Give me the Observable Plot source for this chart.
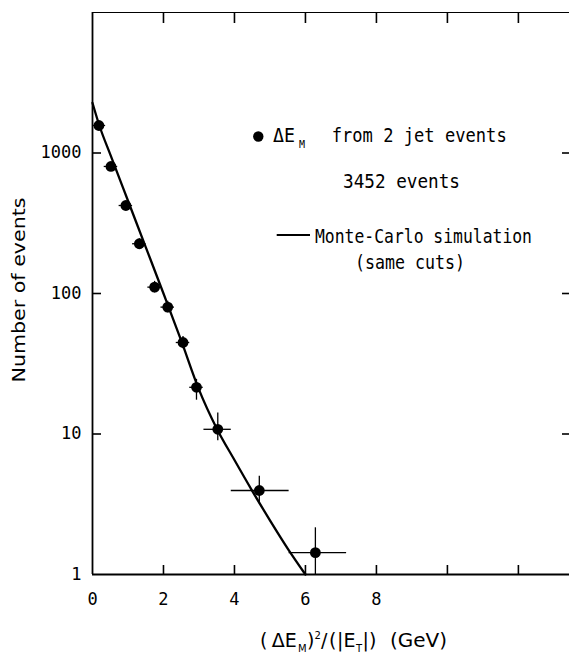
<!DOCTYPE html>
<html><head><meta charset="utf-8">
<script src="https://cdn.jsdelivr.net/npm/d3@7"></script>
<script src="https://cdn.jsdelivr.net/npm/@observablehq/plot@0.6"></script>
<style>
body{margin:0;background:#fff;}
#chart{position:relative;width:569px;height:654px;overflow:hidden;}
</style></head><body><div id="chart"></div>
<script>
// ---- data ----
const binCenter = [0.18, 0.52, 0.94, 1.32, 1.75, 2.12, 2.55, 2.93, 3.53, 4.70, 6.28];
const binLow    = [0.00, 0.33, 0.75, 1.13, 1.56, 1.93, 2.36, 2.74, 3.14, 3.91, 5.54];
const binHigh   = [0.37, 0.71, 1.13, 1.51, 1.94, 2.31, 2.74, 3.12, 3.91, 5.54, 7.16];
const counts    = [1570, 802, 423, 226, 111, 80, 44.8, 21.5, 10.8, 3.96, 1.43];
const countLow  = [1490, 755, 395, 208, 101, 73, 40.5, 17.4, 8.96, 3.19, 1.0];
const countHigh = [1650, 850, 452, 245, 122, 88, 49.5, 24.5, 14.1, 5.0, 2.15];

const mcX = [0, 0.2, 0.5, 1.0, 1.5, 2.0, 2.5, 3.0, 3.5, 4.0, 4.5, 5.0, 5.5, 6.0];
const mcY = [2270, 1550, 977, 457, 214, 100, 46.2, 20.7, 10.96, 6.53, 3.94, 2.43, 1.53, 1.0];

const yTicks = [1, 10, 100, 1000];
const xTickLabels = [0, 2, 4, 6, 8];
const xTickMarks = [2, 4, 6, 8, 10, 12];
const xDomain = [0, 13.44];
const yDomain = [1, 10000];

const yTitle = "Number of events";
const legendData = "from 2 jet events";
const legendCount = "3452 events";
const legendMC1 = "Monte-Carlo simulation";
const legendMC2 = "(same cuts)";

// ---- build ----
const points = binCenter.map((x, i) => ({x, y: counts[i], x1: binLow[i], x2: binHigh[i], y1: countLow[i], y2: countHigh[i]}));
const mc = mcX.map((x, i) => ({x, y: mcY[i]}));

const W = 569, H = 654, mL = 92, mR = 0, mT = 12, mB = 80;
const plotW = W - mL - mR, plotH = H - mT - mB;

const svg = Plot.plot({
  width: W, height: H,
  marginLeft: mL, marginRight: mR, marginTop: mT, marginBottom: mB,
  style: {fontFamily: "DejaVu Sans Mono", fontSize: "17px", color: "black", background: "white"},
  x: {domain: xDomain},
  y: {type: "log", domain: yDomain},
  marks: [
    Plot.axisY({ticks: yTicks, tickSize: 0, tickPadding: 11, tickFormat: d => String(d), label: null}),
    Plot.axisX({ticks: xTickLabels, tickSize: 0, tickPadding: 18, tickFormat: d => String(d), label: null}),
    Plot.tickY(yTicks.slice(1), {insetRight: plotW - 9, stroke: "black", strokeWidth: 1.6}),
    Plot.tickY(yTicks.slice(1), {insetLeft: plotW - 7, stroke: "black", strokeWidth: 1.6}),
    Plot.tickX(xTickMarks, {insetTop: plotH - 9, stroke: "black", strokeWidth: 1.6}),
    Plot.tickX(xTickMarks, {insetBottom: plotH - 11, stroke: "black", strokeWidth: 1.6}),
    Plot.ruleX([xDomain[0]], {stroke: "black", strokeWidth: 1.8}),
    Plot.ruleY([yDomain[0]], {stroke: "black", strokeWidth: 2}),
    Plot.ruleY([yDomain[1]], {stroke: "black", strokeWidth: 1.2}),
    Plot.line(mc, {x: "x", y: "y", curve: "monotone-x", stroke: "black", strokeWidth: 2.3}),
    Plot.ruleY(points, {y: "y", x1: "x1", x2: "x2", stroke: "black", strokeWidth: 1.3}),
    Plot.ruleX(points, {x: "x", y1: "y1", y2: "y2", stroke: "black", strokeWidth: 1.3}),
    Plot.dot(points, {x: "x", y: "y", r: 5.4, fill: "black", stroke: "none"})
  ]
});

const s = d3.select(svg);
const g = s.append("g").attr("fill", "black").attr("font-family", "DejaVu Sans Mono").attr("text-anchor", "start");

function txt(parent, x, y, size, str, len) {
  const t = parent.append("text").attr("x", x).attr("y", y).attr("font-size", size)
    .attr("fill", "black").attr("text-anchor", "start").text(str);
  if (len) t.attr("textLength", len).attr("lengthAdjust", "spacingAndGlyphs");
  return t;
}
// one text element made of positioned pieces
function multi(parent, pieces, family) {
  const t = parent.append("text").attr("fill", "black").attr("text-anchor", "start");
  if (family) t.attr("font-family", family);
  for (const [x, y, size, str, len] of pieces) {
    const sp = t.append("tspan").attr("x", x).attr("y", y).attr("font-size", size).text(str);
    if (len) sp.attr("textLength", len).attr("lengthAdjust", "spacingAndGlyphs");
  }
  return t;
}

// legend
g.append("circle").attr("cx", 258.3).attr("cy", 136.5).attr("r", 5.2).attr("fill", "black");
multi(g, [
  [273, 141.7, 19, "ΔE", 22],
  [299, 148, 10, "M"],
  [331.7, 141.7, 19, legendData, 175]
]);
txt(g, 343, 188.3, 19, legendCount, 117);
g.append("line").attr("x1", 276.7).attr("x2", 310).attr("y1", 235).attr("y2", 235)
  .attr("stroke", "black").attr("stroke-width", 2);
txt(g, 315, 243, 19, legendMC1, 217);
txt(g, 355, 269, 19, legendMC2, 110);

// y-axis title
g.append("text").attr("transform", "translate(25,290) rotate(-90)")
  .attr("text-anchor", "middle").attr("font-family", "DejaVu Sans").attr("font-size", 18).attr("fill", "black")
  .attr("textLength", 185).attr("lengthAdjust", "spacingAndGlyphs").text(yTitle);

// x-axis title: ( ΔE_M )²/ (|E_T|)  (GeV)
multi(g, [
  [260, 647, 19, "("],
  [271.7, 647, 19, "ΔE"],
  [298, 652, 10, "M"],
  [307, 647, 19, ")"],
  [314.5, 639, 10, "2"],
  [321, 647, 19, "/"],
  [329, 647, 19, "("],
  [337, 647, 19, "|E"],
  [356, 652, 10, "T"],
  [362.5, 647, 19, "|)"],
  [390, 647, 20, "(GeV)"]
], "DejaVu Sans");

document.getElementById("chart").appendChild(svg);
</script>
</body></html>
